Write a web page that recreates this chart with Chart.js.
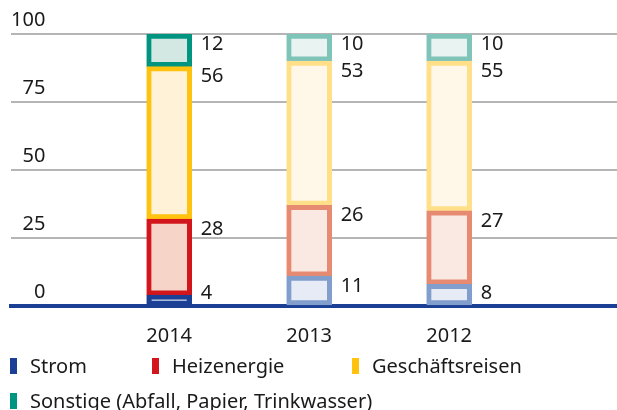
<!DOCTYPE html>
<html>
<head>
<meta charset="utf-8">
<script src="https://cdn.jsdelivr.net/npm/chart.js@4"></script>
<style>
  body { margin: 0; background: #fff; font-family: 'Noto Sans', sans-serif; }
  #wrap { position: relative; width: 617px; height: 410px; }
  #legend { position: absolute; left: 0; top: 0; width: 617px; height: 410px; pointer-events: none; }
  .item { position: absolute; font-size: 20px; line-height: 20px; color: #1a1a1a; white-space: nowrap; }
  .swatch { position: absolute; width: 7px; height: 16px; }
</style>
</head>
<body>
<div id="wrap">
  <canvas id="chart"></canvas>
  <div id="legend"></div>
</div>
<script>
// data (percent shares)
const years = ['2014', '2013', '2012'];
const strom = [4, 11, 8];
const heizenergie = [28, 26, 27];
const geschaeftsreisen = [56, 53, 55];
const sonstige = [12, 10, 10];
const seriesNames = ['Strom', 'Heizenergie', 'Geschäftsreisen', 'Sonstige (Abfall, Papier, Trinkwasser)'];
const yTicks = [0, 25, 50, 75, 100];

// styles: strong colour for the current year, faded for earlier years
const strongBorder = ['#1b3f94', '#d2161c', '#ffc20e', '#009581'];
const strongFill = ['#cbd6ed', '#f6d5c8', '#fff2d6', '#d3e7e3'];
const fadedBorder = ['#819ecc', '#e68b72', '#ffdf88', '#7fc4b9'];
const fadedFill = ['#e6ebf5', '#fae9e3', '#fff7e8', '#e9f4f2'];

const allSeries = [strom, heizenergie, geschaeftsreisen, sonstige];

Chart.defaults.font.family = "'Noto Sans', sans-serif";
Chart.defaults.color = '#1a1a1a';

const datasets = allSeries.map((values, s) => ({
    label: seriesNames[s],
    data: values.map((v, i) => ({ x: i, y: v })),
    backgroundColor: years.map((_, i) => i === 0 ? strongFill[s] : fadedFill[s]),
    borderColor: years.map((_, i) => i === 0 ? strongBorder[s] : fadedBorder[s]),
    borderWidth: 5,
    borderSkipped: false,
    barThickness: 45
}));

// value labels to the right of each segment
const valueLabels = {
    id: 'valueLabels',
    afterDatasetsDraw(chart) {
        const ctx = chart.ctx;
        const yScale = chart.scales.y;
        ctx.save();
        ctx.font = "20px 'Noto Sans'";
        ctx.fillStyle = '#1a1a1a';
        ctx.textAlign = 'left';
        ctx.textBaseline = 'middle';
        const totals = years.map(() => 0);
        chart.data.datasets.forEach((ds, d) => {
            const meta = chart.getDatasetMeta(d);
            ds.data.forEach((pt, i) => {
                totals[i] += pt.y;
                const bar = meta.data[i];
                const top = yScale.getPixelForValue(totals[i]);
                const y = Math.min(top + 10, yScale.bottom - 13);
                ctx.fillText(String(pt.y), bar.x + bar.width / 2 + 9, y);
            });
        });
        ctx.restore();
    }
};

new Chart(document.getElementById('chart'), {
    type: 'bar',
    data: { datasets },
    plugins: [valueLabels],
    options: {
        responsive: true,
        maintainAspectRatio: false,
        animation: false,
        layout: { padding: { left: 11, right: 0, top: 34, bottom: 54 } },
        plugins: {
            legend: { display: false },
            tooltip: { enabled: false }
        },
        scales: {
            x: {
                type: 'linear',
                stacked: true,
                offset: false,
                min: -1.13,
                max: 3.199,
                z: 1,
                grid: { display: false },
                border: { display: true, color: '#1b3f94', width: 4 },
                afterBuildTicks: (axis) => { axis.ticks = years.map((_, i) => ({ value: i })); },
                afterFit: (axis) => { axis.height = 50; },
                ticks: {
                    font: { size: 20 },
                    padding: 10,
                    maxRotation: 0,
                    callback: (v) => years[v]
                }
            },
            y: {
                stacked: true,
                min: 0,
                max: 100,
                afterBuildTicks: (axis) => { axis.ticks = yTicks.map(v => ({ value: v })); },
                grid: { color: '#b5b5b5', lineWidth: 2, drawTicks: false },
                border: { display: false },
                ticks: {
                    mirror: true,
                    crossAlign: 'far',
                    padding: 0,
                    labelOffset: -14,
                    font: { size: 20 }
                }
            }
        }
    }
});

// legend below the chart
const legendPos = [
    { x: 10, y: 358 },
    { x: 152, y: 358 },
    { x: 352, y: 358 },
    { x: 10, y: 393 }
];
const legend = document.getElementById('legend');
seriesNames.forEach((name, s) => {
    const p = legendPos[s];
    const sw = document.createElement('div');
    sw.className = 'swatch';
    sw.style.left = p.x + 'px';
    sw.style.top = p.y + 'px';
    sw.style.background = strongBorder[s];
    legend.appendChild(sw);
    const tx = document.createElement('div');
    tx.className = 'item';
    tx.style.left = (p.x + 20) + 'px';
    tx.style.top = (p.y - 2) + 'px';
    tx.textContent = name;
    legend.appendChild(tx);
});
</script>
</body>
</html>
